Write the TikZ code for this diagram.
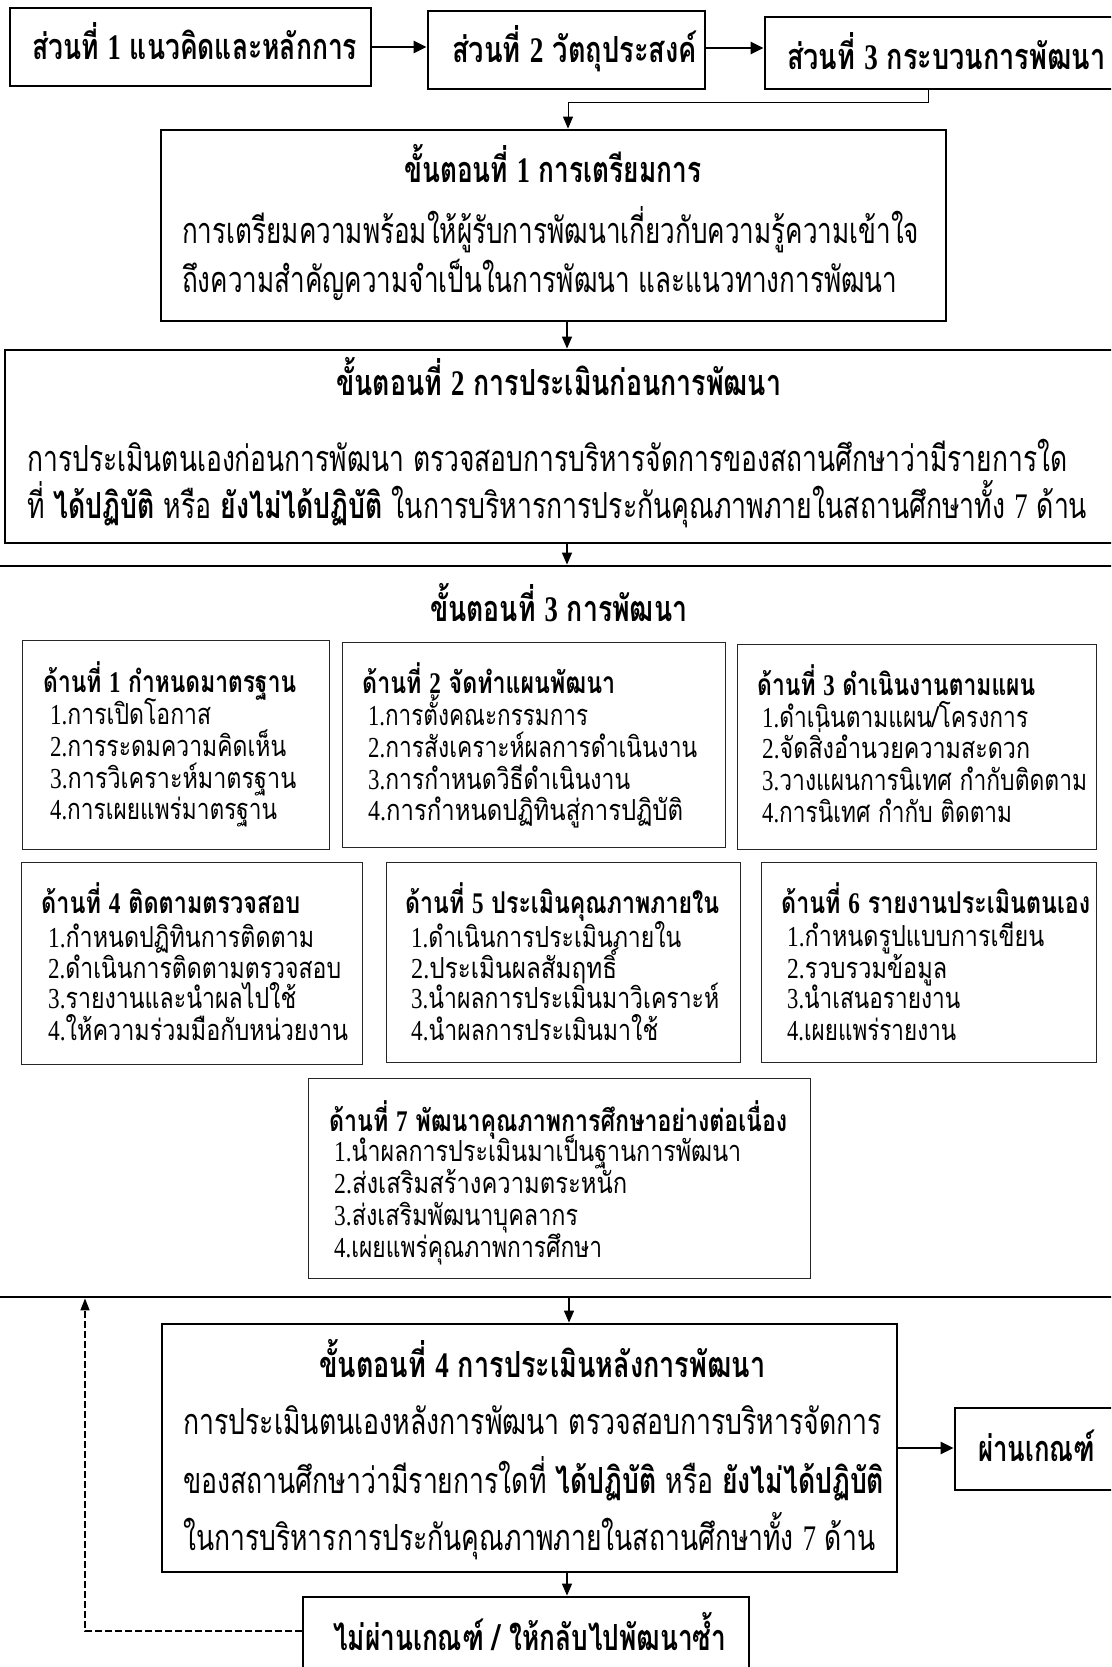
\documentclass[tikz,border=0pt]{standalone}
\usepackage{fontspec}
\setmainfont[Script=Thai]{Loma}
\newfontfamily\latinfont{Liberation Serif}
\usetikzlibrary{arrows.meta,fit}
\newsavebox\fitbox
\newcommand\fitto[2]{\sbox\fitbox{#2}\scalebox{\fpeval{#1/(\the\wd\fitbox)}}[1]{\usebox\fitbox}}
\newcommand\dg[1]{{\latinfont #1}}
\newcommand\fbig{\fontsize{36}{42}\selectfont}
\newcommand\fsub{\fontsize{30}{36}\selectfont}
\newcommand\fitem{\fontsize{29}{34}\selectfont}
% text node: name, x, baseline y, width, text
\newcommand\tx[5]{\node[anchor=base west,inner sep=0pt] (#1) at (#2,#3) {\fitto{#4}{#5}};}
\tikzset{
  thickbox/.style={draw=black,line width=2.8pt,inner sep=0pt},
  thinbox/.style={draw=black!85,line width=1pt,inner sep=0pt},
  arr/.style={line width=1.4pt,-{Triangle[length=12pt,width=10pt]}},
  thinarr/.style={line width=1pt,-{Triangle[length=12pt,width=10pt]}},
  fatarr/.style={line width=2.4pt,-{Triangle[length=13pt,width=12pt]}},
  dasharr/.style={line width=1.5pt,dashed,dash pattern=on 7pt off 3pt,-{Triangle[length=12pt,width=9pt]}}
}
\begin{document}
\begin{tikzpicture}[x=1pt,y=-1pt]
\useasboundingbox (0,0) rectangle (1111,1667);
\fill[white] (0,0) rectangle (1111,1667);
\clip (0,0) rectangle (1111,1667);

% --- top row ---
\node[thickbox, fit={(10,8) (371,86)}] (p1) {};
\node[thickbox, fit={(428,11) (705,89)}] (p2) {};
\node[thickbox, fit={(765,17) (1140,89)}] (p3) {};
\tx{tp1}{32}{60}{325}{\fbig\bfseries ส่วนที่ \dg{1} แนวคิดและหลักการ}
\tx{tp2}{452}{63}{245}{\fbig\bfseries ส่วนที่ \dg{2} วัตถุประสงค์}
\tx{tp3}{787}{70}{318}{\fbig\bfseries ส่วนที่ \dg{3} กระบวนการพัฒนา}
\draw[fatarr] (p1.east) -- (p1.east -| p2.west);
\draw[fatarr] (p2.east |- 0,48) -- (p3.west |- 0,48);

% --- step 1 ---
\node[thickbox, fit={(161,130) (946,321)}] (s1) {};
\tx{ts1}{404}{182}{297}{\fbig\bfseries ขั้นตอนที่ \dg{1} การเตรียมการ}
\tx{ts1a}{182}{243}{737}{\fbig การเตรียมความพร้อมให้ผู้รับการพัฒนาเกี่ยวกับความรู้ความเข้าใจ}
\tx{ts1b}{182}{292}{715}{\fbig ถึงความสำคัญความจำเป็นในการพัฒนา และแนวทางการพัฒนา}
\coordinate (c1) at (928,103);
\coordinate (c2) at (568,103);
\draw[thinarr] (c1 |- p3.south) -- (c1) -- (c2) -- (c2 |- s1.north);

% --- step 2 ---
\coordinate (ax) at (567,0);
\node[thickbox, fit={(5,350) (1140,543)}] (s2) {};
\tx{ts2}{336}{395}{445}{\fbig\bfseries ขั้นตอนที่ \dg{2} การประเมินก่อนการพัฒนา}
\tx{ts2a}{27}{471}{1040}{\fbig การประเมินตนเองก่อนการพัฒนา ตรวจสอบการบริหารจัดการของสถานศึกษาว่ามีรายการใด}
\tx{ts2b}{27}{518}{1060}{\fbig ที่ \textbf{ได้ปฏิบัติ} หรือ \textbf{ยังไม่ได้ปฏิบัติ} ในการบริหารการประกันคุณภาพภายในสถานศึกษาทั้ง \dg{7} ด้าน}
\draw[arr] (ax |- s1.south) -- (ax |- s2.north);

% --- step 3 ---
\node[thickbox, fit={(-30,566) (1140,1297)}] (s3) {};
\draw[arr] (ax |- s2.south) -- (ax |- s3.north);
\tx{ts3}{430}{621}{257}{\fbig\bfseries ขั้นตอนที่ \dg{3} การพัฒนา}

\node[thinbox, fit={(22,640) (329,849)}] (d1) {};
\tx{d1t}{43}{692}{253}{\fsub\bfseries ด้านที่ \dg{1} กำหนดมาตรฐาน}
\tx{d1a}{50}{724}{161}{\fitem\dg{1.}การเปิดโอกาส}
\tx{d1b}{50}{756}{236}{\fitem\dg{2.}การระดมความคิดเห็น}
\tx{d1c}{50}{788}{246}{\fitem\dg{3.}การวิเคราะห์มาตรฐาน}
\tx{d1d}{50}{819}{227}{\fitem\dg{4.}การเผยแพร่มาตรฐาน}

\node[thinbox, fit={(342,642) (725,847)}] (d2) {};
\tx{d2t}{362}{693}{253}{\fsub\bfseries ด้านที่ \dg{2} จัดทำแผนพัฒนา}
\tx{d2a}{368}{725}{220}{\fitem\dg{1.}การตั้งคณะกรรมการ}
\tx{d2b}{368}{757}{329}{\fitem\dg{2.}การสังเคราะห์ผลการดำเนินงาน}
\tx{d2c}{368}{789}{262}{\fitem\dg{3.}การกำหนดวิธีดำเนินงาน}
\tx{d2d}{368}{820}{315}{\fitem\dg{4.}การกำหนดปฏิทินสู่การปฏิบัติ}

\node[thinbox, fit={(737,644) (1096,849)}] (d3) {};
\tx{d3t}{757}{695}{278}{\fsub\bfseries ด้านที่ \dg{3} ดำเนินงานตามแผน}
\tx{d3a}{762}{727}{266}{\fitem\dg{1.}ดำเนินตามแผน/โครงการ}
\tx{d3b}{762}{758}{268}{\fitem\dg{2.}จัดสิ่งอำนวยความสะดวก}
\tx{d3c}{762}{790}{325}{\fitem\dg{3.}วางแผนการนิเทศ กำกับติดตาม}
\tx{d3d}{762}{822}{250}{\fitem\dg{4.}การนิเทศ กำกับ ติดตาม}

\node[thinbox, fit={(21,862) (362,1064)}] (d4) {};
\tx{d4t}{41}{913}{259}{\fsub\bfseries ด้านที่ \dg{4} ติดตามตรวจสอบ}
\tx{d4a}{48}{947}{266}{\fitem\dg{1.}กำหนดปฏิทินการติดตาม}
\tx{d4b}{48}{978}{293}{\fitem\dg{2.}ดำเนินการติดตามตรวจสอบ}
\tx{d4c}{48}{1008}{248}{\fitem\dg{3.}รายงานและนำผลไปใช้}
\tx{d4d}{48}{1040}{300}{\fitem\dg{4.}ให้ความร่วมมือกับหน่วยงาน}

\node[thinbox, fit={(386,862) (740,1062)}] (d5) {};
\tx{d5t}{405}{913}{314}{\fsub\bfseries ด้านที่ \dg{5} ประเมินคุณภาพภายใน}
\tx{d5a}{411}{947}{270}{\fitem\dg{1.}ดำเนินการประเมินภายใน}
\tx{d5b}{411}{978}{206}{\fitem\dg{2.}ประเมินผลสัมฤทธิ์}
\tx{d5c}{411}{1008}{308}{\fitem\dg{3.}นำผลการประเมินมาวิเคราะห์}
\tx{d5d}{411}{1040}{247}{\fitem\dg{4.}นำผลการประเมินมาใช้}

\node[thinbox, fit={(761,862) (1096,1062)}] (d6) {};
\tx{d6t}{781}{913}{309}{\fsub\bfseries ด้านที่ \dg{6} รายงานประเมินตนเอง}
\tx{d6a}{787}{946}{257}{\fitem\dg{1.}กำหนดรูปแบบการเขียน}
\tx{d6b}{787}{978}{160}{\fitem\dg{2.}รวบรวมข้อมูล}
\tx{d6c}{787}{1008}{173}{\fitem\dg{3.}นำเสนอรายงาน}
\tx{d6d}{787}{1040}{169}{\fitem\dg{4.}เผยแพร่รายงาน}

\node[thinbox, fit={(308,1078) (810,1278)}] (d7) {};
\tx{d7t}{329}{1131}{458}{\fsub\bfseries ด้านที่ \dg{7} พัฒนาคุณภาพการศึกษาอย่างต่อเนื่อง}
\tx{d7a}{334}{1161}{407}{\fitem\dg{1.}นำผลการประเมินมาเป็นฐานการพัฒนา}
\tx{d7b}{334}{1193}{293}{\fitem\dg{2.}ส่งเสริมสร้างความตระหนัก}
\tx{d7c}{334}{1225}{244}{\fitem\dg{3.}ส่งเสริมพัฒนาบุคลากร}
\tx{d7d}{334}{1257}{268}{\fitem\dg{4.}เผยแพร่คุณภาพการศึกษา}

% --- step 4 ---
\coordinate (bx) at (569,0);
\node[thickbox, fit={(162,1324) (897,1572)}] (s4) {};
\draw[arr] (bx |- s3.south) -- (bx |- s4.north);
\tx{ts4}{319}{1377}{446}{\fbig\bfseries ขั้นตอนที่ \dg{4} การประเมินหลังการพัฒนา}
\tx{ts4a}{183}{1434}{699}{\fbig การประเมินตนเองหลังการพัฒนา ตรวจสอบการบริหารจัดการ}
\tx{ts4b}{183}{1493}{701}{\fbig ของสถานศึกษาว่ามีรายการใดที่ \textbf{ได้ปฏิบัติ} หรือ \textbf{ยังไม่ได้ปฏิบัติ}}
\tx{ts4c}{183}{1550}{692}{\fbig ในการบริหารการประกันคุณภาพภายในสถานศึกษาทั้ง \dg{7} ด้าน}

\node[thickbox, fit={(955,1408) (1140,1490)}] (pass) {};
\tx{tpass}{978}{1461}{117}{\fbig\bfseries ผ่านเกณฑ์}
\draw[fatarr] (s4.east |- 0,1448) -- (pass.west |- 0,1448);

\node[thickbox, fit={(303,1597) (749,1700)}] (fail) {};
\tx{tfail}{333}{1650}{393}{\fbig\bfseries ไม่ผ่านเกณฑ์ / ให้กลับไปพัฒนาซ้ำ}
\draw[arr] (ax |- s4.south) -- (ax |- fail.north);

\coordinate (dl) at (85,1631);
\draw[dasharr] (fail.west |- dl) -- (dl) -- (dl |- s3.south);
\end{tikzpicture}
\end{document}
